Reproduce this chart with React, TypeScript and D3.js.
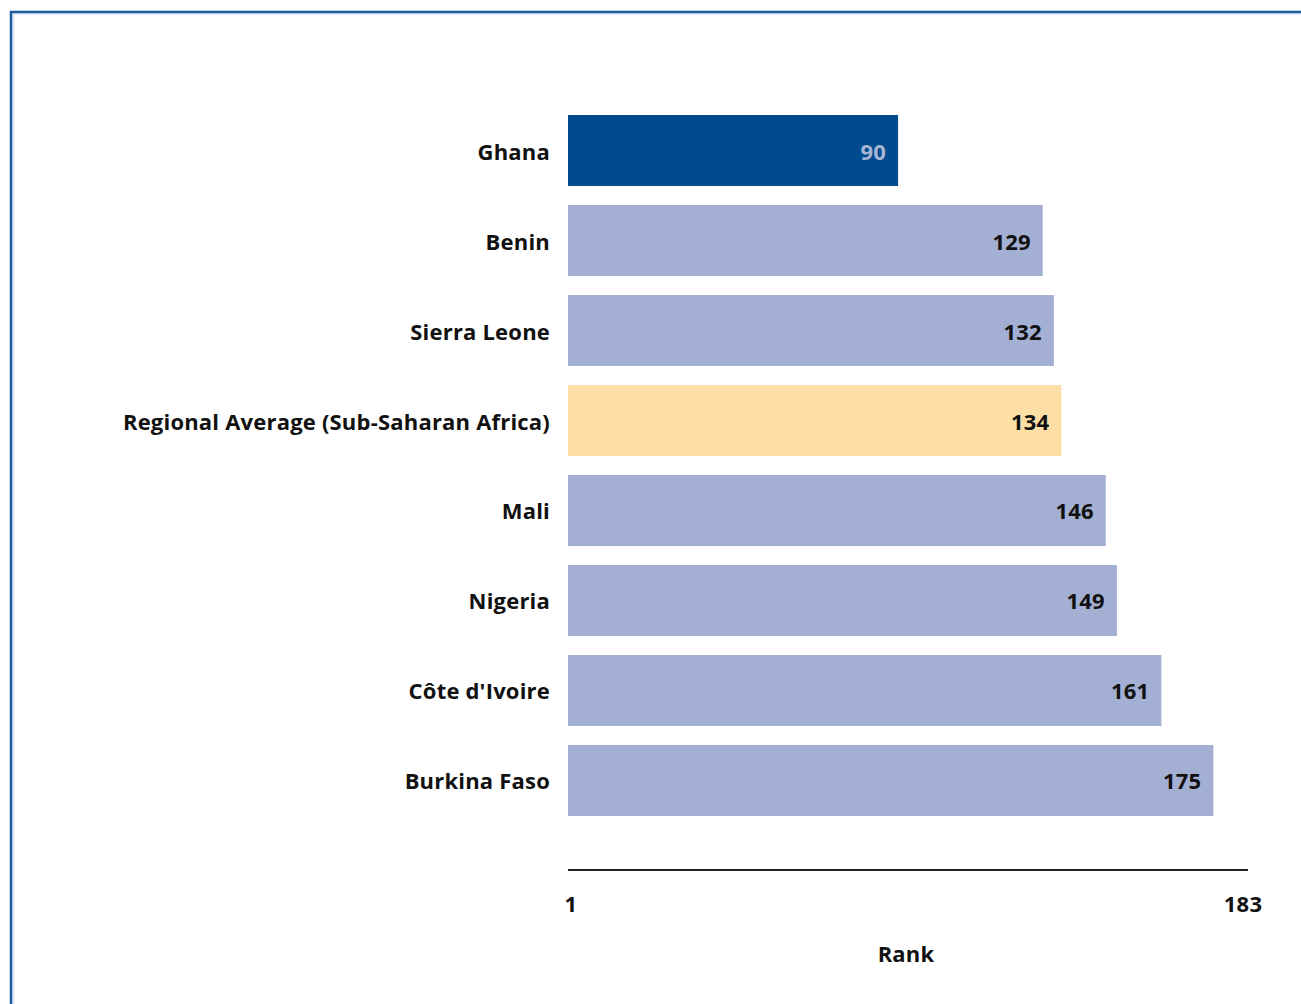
import React from "react";
import * as d3 from "d3";

const categories = [
  "Ghana",
  "Benin",
  "Sierra Leone",
  "Regional Average (Sub-Saharan Africa)",
  "Mali",
  "Nigeria",
  "Côte d'Ivoire",
  "Burkina Faso",
];
const ranks = [90, 129, 132, 134, 146, 149, 161, 175];
const kinds = ["focus", "peer", "peer", "average", "peer", "peer", "peer", "peer"];
const axisTicks = [1, 183];
const axisTitle = "Rank";

const W = 1301;
const H = 1004;
const FONT = "'Open Sans', Lato, sans-serif";
const FS = 22;
const LS = 0.2;

export default function App() {
  const x = d3.scaleLinear().domain([1, 183]).range([568, 1243]);
  const y = d3.scaleBand<string>().domain(categories).range([115, 816]).paddingInner(0.211).paddingOuter(0);
  const fill = (k: string) => (k === "focus" ? "#004b8d" : k === "average" ? "#fddfa6" : "#a4b0d3");
  const labelFill = (k: string) => (k === "focus" ? "#a9b5d6" : "#111");

  return (
    <svg width={W} height={H} style={{ position: "absolute", left: 0, top: 0, display: "block", background: "#fff" }}>
      {/* frame */}
      <line x1={10} y1={12} x2={W} y2={12} stroke="#1b5a9e" strokeWidth={2.5} />
      <line x1={11} y1={11} x2={11} y2={H} stroke="#1b5a9e" strokeWidth={2.5} />
      <line x1={12.5} y1={13.8} x2={W} y2={13.8} stroke="#a9c4e2" strokeWidth={1} />
      <line x1={13} y1={13.5} x2={13} y2={H} stroke="#a9c4e2" strokeWidth={1} />

      {categories.map((c, i) => {
        const by = y(c)!;
        const bh = y.bandwidth();
        return (
          <g key={c}>
            <rect x={x(1)} y={by} width={x(ranks[i]) - x(1)} height={bh} fill={fill(kinds[i])} />
            <text
              x={550}
              y={by + bh / 2}
              textAnchor="end"
              dominantBaseline="central"
              fontFamily={FONT}
              fontWeight={700}
              fontSize={FS}
              letterSpacing={LS}
              fill="#111"
            >
              {c}
            </text>
            <text
              x={x(ranks[i]) - 12}
              y={by + bh / 2}
              textAnchor="end"
              dominantBaseline="central"
              fontFamily={FONT}
              fontWeight={700}
              fontSize={FS}
              letterSpacing={LS}
              fill={labelFill(kinds[i])}
            >
              {ranks[i]}
            </text>
          </g>
        );
      })}

      <line x1={568} y1={870} x2={1248} y2={870} stroke="#222" strokeWidth={2} />
      {axisTicks.map((t) => (
        <text
          key={t}
          x={x(t) + (t === 1 ? 3 : 0)}
          y={903}
          textAnchor="middle"
          dominantBaseline="central"
          fontFamily={FONT}
          fontWeight={700}
          fontSize={FS}
          letterSpacing={LS}
          fill="#111"
        >
          {t}
        </text>
      ))}
      <text
        x={906}
        y={953}
        textAnchor="middle"
        dominantBaseline="central"
        fontFamily={FONT}
        fontWeight={700}
        fontSize={FS}
        letterSpacing={LS}
        fill="#111"
      >
        {axisTitle}
      </text>
    </svg>
  );
}
